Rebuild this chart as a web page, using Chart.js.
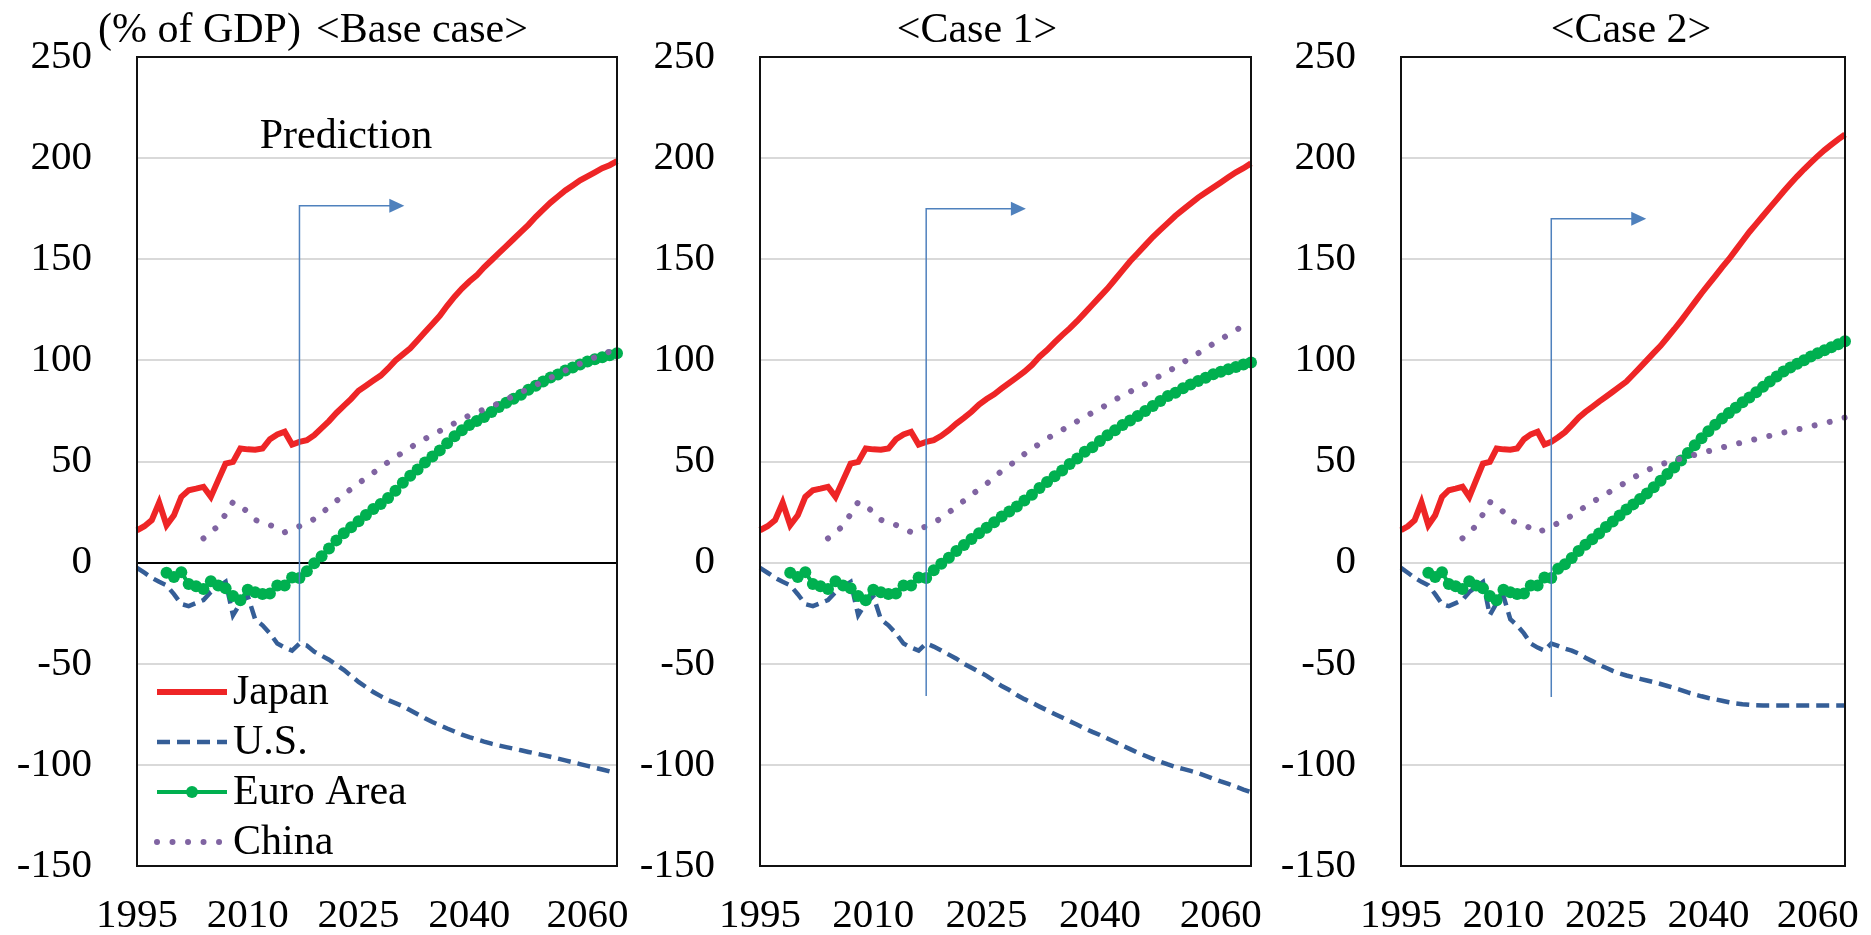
<!DOCTYPE html>
<html>
<head>
<meta charset="utf-8">
<script src="https://cdn.jsdelivr.net/npm/chart.js@4.4.1/dist/chart.umd.min.js"></script>
<style>
  html, body { margin: 0; padding: 0; background: #fff; }
  #wrap { position: relative; width: 1871px; height: 935px; overflow: hidden; }
  canvas { position: absolute; top: 0; }
</style>
</head>
<body>
<div id="wrap">
  <canvas id="base" width="640" height="935" style="left:0"></canvas>
  <canvas id="case1" width="640" height="935" style="left:640px"></canvas>
  <canvas id="case2" width="591" height="935" style="left:1280px"></canvas>
</div>
<script>
// years on the x axis
const years = Array.from({ length: 66 }, (_, i) => 1995 + i);
const xTickAt = [1995, 2010, 2025, 2040, 2056];
const xTickLabels = ['1995', '2010', '2025', '2040', '2060'];
const seriesNames = ['Japan', 'U.S.', 'Euro Area', 'China'];

// actual values 1995-2017 (% of GDP)
const jpHist = [16, 18, 21, 29.7, 18.5, 23.4, 32.5, 35.8, 36.6, 37.5, 32.5, 40.8, 49, 49.8, 56.4, 56, 55.8, 56.4, 61, 63.4, 64.7, 58.4, 59.7];
const usHist = [-2.6, -5, -7.5, -9.5, -11.2, -15.6, -20.5, -21.5, -20, -18.5, -14.5, -12, -9.5, -26, -20, -16.5, -28, -31, -35, -40, -42, -43.5, -40];
const euHist = [null, null, null, null, -5, -7.1, -4.7, -10.6, -11.7, -13.1, -9.2, -11.3, -12.7, -16.5, -18.6, -13.4, -14.6, -15.5, -15.3, -11.3, -11.3, -7.4, -7.6];
const cnHist = [null, null, null, null, null, null, null, null, null, 12, 15, 18.2, 24, 30, 28, 25, 21.2, 19.5, 18.6, 17, 15, 16.3, 18];

// predictions 2018-2060, base case
const jpBase = [60.5, 63, 66.5, 70, 74, 77.5, 81, 85, 87.5, 90,
  92.5, 96, 100, 103, 106, 110, 114, 118, 122, 127,
  131.5, 135.5, 139, 142, 146, 149.5, 153, 156.5, 160, 163.5,
  167, 171, 174.5, 178, 181, 184, 186.5, 189, 191, 193,
  195, 196.5, 198.5];
const usBase = [-41, -44, -46, -48, -50.5, -53, -56, -59, -61.5, -64,
  -66, -68, -69.5, -71, -73, -75, -77, -78.8, -80.4, -82,
  -83.5, -85, -86.3, -87.4, -88.5, -89.5, -90.4, -91.2, -92, -92.8,
  -93.6, -94.4, -95.2, -96, -96.9, -97.8, -98.7, -99.6, -100.5, -101.4,
  -102.3, -103.2, -104];
const euBase = [-4.3, -0.3, 3.2, 7, 11, 14.5, 17.5, 20.5, 23.5, 26.5,
  29, 32, 35.5, 39.5, 43, 46, 49.5, 52.5, 55.5, 59,
  62.5, 65.5, 68, 70, 72, 74.5, 77, 79, 81, 83,
  85.5, 87.5, 89.5, 91.5, 93, 95, 96.5, 98, 99.5, 100.5,
  101.5, 102.5, 103.5];
const cnBase = [19.5, 21.6, 24.5, 27.5, 30.5, 33.5, 36.5, 39.2, 41.8, 44.4,
  47, 49.7, 52.2, 54.5, 56.8, 59.2, 61.2, 63.2, 65.1, 67,
  68.9, 70.8, 72.8, 74.3, 75.8, 77.3, 78.8, 80.6, 82.4, 84.2,
  86, 87.8, 89.6, 91.4, 93.2, 95, 96.7, 98.4, 100, 101.5,
  103, 104.3, 105.5];

// case 1
const jpCase1 = [60.6, 62.7, 65.5, 68.8, 71.6, 74.6, 78.2, 80.9, 83.2, 86.1,
  88.9, 91.6, 94.4, 97.7, 101.8, 105.1, 108.9, 112.5, 115.8, 119.5,
  123.5, 127.5, 131.5, 135.5, 140, 144.5, 149, 153, 157, 161,
  164.5, 168, 171.5, 174.5, 177.5, 180.5, 183, 185.5, 188, 190.5,
  193, 195, 197.4];
const usCase1 = [-41.5, -43.4, -45.5, -47.5, -50, -52, -54, -56, -58.5, -61,
  -63, -65.5, -67.5, -69.3, -71.2, -73, -74.8, -76.6, -78.4, -80.2,
  -82, -83.7, -85.2, -87, -88.7, -90.5, -92.2, -94, -95.5, -97,
  -98.5, -99.8, -101, -102, -103, -104, -105.4, -106.8, -108.2, -109.4,
  -110.8, -112.2, -113.5];
const euCase1 = [-3.8, -0.5, 2.4, 5.7, 8.7, 11.7, 14.5, 17.3, 20, 22.8,
  25.3, 27.8, 30.7, 33.6, 36.9, 39.9, 42.7, 45.5, 48.8, 51.5,
  54.8, 57.1, 60.1, 63, 65.5, 68, 70.3, 72.5, 75, 77.4,
  79.9, 82.4, 84, 86.2, 88.1, 89.8, 91.4, 93.1, 94.4, 95.6,
  96.7, 98, 99];
const cnCase1 = [19.9, 21.9, 24.8, 27.7, 30.6, 33.5, 36.3, 39, 42.1, 45.4,
  48, 50.6, 53.7, 56.4, 58.7, 61.2, 63.7, 65.6, 67.5, 69.9,
  72.2, 74.1, 76.1, 78.3, 80.5, 82.6, 84.5, 86.4, 88.4, 90.4,
  92.4, 94.4, 96.7, 99, 101.2, 103.5, 105.9, 108.2, 110.4, 112.7,
  115, 117, 118.5];

// case 2
const jpCase2 = [62, 64.5, 68, 71.7, 74.5, 77, 79.6, 82, 84.5, 87,
  89.5, 93, 96.5, 100.1, 103.7, 107.2, 111.3, 115.4, 119.7, 124.2,
  128.7, 133.2, 137.4, 141.7, 146, 150, 154.5, 159, 163.5, 167.5,
  171.5, 175.5, 179.5, 183.5, 187.3, 191, 194.5, 197.8, 201, 204,
  206.7, 209.3, 211.7];
const usCase2 = [-41.2, -42.5, -43.5, -45, -47, -48.7, -50.5, -52, -53.5, -54.8,
  -55.8, -56.7, -57.5, -58.3, -59.1, -60, -61, -62, -63, -64.2,
  -65.2, -66.1, -66.9, -67.6, -68.3, -69, -69.6, -70, -70.3, -70.5,
  -70.6, -70.6, -70.6, -70.6, -70.6, -70.6, -70.6, -70.6, -70.6, -70.6,
  -70.6, -70.6, -70.6];
const euCase2 = [-3, -0.8, 2.3, 5.8, 8.8, 11.5, 14.4, 17.6, 20.3, 23.3,
  26.3, 28.8, 31.5, 34.2, 37.3, 40.5, 43.8, 47, 50.5, 54.2,
  58, 61.5, 65, 68.2, 71.2, 74, 76.6, 79.3, 81.7, 84.2,
  86.9, 89.5, 92, 94.5, 96.5, 98.3, 100.1, 101.9, 103.5, 105,
  106.5, 108, 109.5];
const cnCase2 = [19.5, 21.3, 23.3, 25.5, 27.8, 29.9, 31.9, 33.9, 35.9, 37.9,
  39.9, 41.9, 43.9, 45.6, 47.2, 48.5, 49.5, 50.5, 51.5, 52.4,
  53.3, 54.2, 55.1, 56, 56.9, 57.8, 58.6, 59.5, 60.3, 61.1,
  61.9, 62.7, 63.5, 64.3, 65, 65.8, 66.6, 67.4, 68.2, 69,
  69.8, 70.8, 71.8];

const SERIF = '"Liberation Serif", "Times New Roman", serif';
Chart.defaults.font.family = SERIF;
Chart.defaults.color = '#000';

// arrow, plot box, panel texts and legend
const decor = {
  id: 'decor',
  afterDatasetsDraw(chart, args, o) {
    const { ctx, chartArea: a, scales: { x, y } } = chart;
    ctx.save();

    // prediction arrow
    const ax = x.getPixelForValue(o.arrow.at);
    const top = y.getPixelForValue(o.arrow.top);
    const bot = y.getPixelForValue(o.arrow.bottom);
    const tip = x.getPixelForValue(o.arrow.end);
    ctx.strokeStyle = '#4F81BD';
    ctx.fillStyle = '#4F81BD';
    ctx.lineWidth = 1.5;
    ctx.beginPath();
    ctx.moveTo(ax, bot);
    ctx.lineTo(ax, top);
    ctx.lineTo(tip - 12, top);
    ctx.stroke();
    ctx.beginPath();
    ctx.moveTo(tip, top);
    ctx.lineTo(tip - 15, top - 7);
    ctx.lineTo(tip - 15, top + 7);
    ctx.closePath();
    ctx.fill();

    // plot frame
    ctx.strokeStyle = '#111';
    ctx.lineWidth = 2;
    ctx.strokeRect(a.left, a.top, a.right - a.left, a.bottom - a.top);

    // texts
    ctx.fillStyle = '#000';
    ctx.font = '42px ' + SERIF;
    ctx.textBaseline = 'alphabetic';
    (o.texts || []).forEach(t => {
      ctx.textAlign = t.align;
      ctx.fillText(t.text, t.x, t.y);
    });

    // legend
    if (o.legend) {
      const L = o.legend;
      chart.data.datasets.forEach((ds, i) => {
        const base = L.y + i * L.gap;
        const ly = base - 12;
        ctx.save();
        ctx.strokeStyle = ds.borderColor;
        ctx.lineWidth = ds.borderWidth;
        ctx.lineCap = ds.borderCapStyle || 'butt';
        ctx.setLineDash(ds.borderDash || []);
        ctx.beginPath();
        ctx.moveTo(L.x, ly);
        ctx.lineTo(L.x + L.len, ly);
        ctx.stroke();
        if (ds.pointRadius > 0) {
          ctx.setLineDash([]);
          ctx.fillStyle = ds.pointBackgroundColor;
          ctx.beginPath();
          ctx.arc(L.x + L.len / 2, ly, ds.pointRadius, 0, Math.PI * 2);
          ctx.fill();
        }
        ctx.restore();
        ctx.textAlign = 'left';
        ctx.fillText(ds.label, L.x + L.len + 6, base);
      });
    }
    ctx.restore();
  }
};

function makeChart(id, p) {
  const datasets = [
    { label: seriesNames[0], data: jpHist.concat(p.jp), borderColor: '#EE2526', borderWidth: 6,
      pointRadius: 0, order: 3 },
    { label: seriesNames[1], data: usHist.concat(p.us), borderColor: '#355E97', borderWidth: 4.5,
      borderDash: [13, 7], pointRadius: 0, order: 2 },
    { label: seriesNames[2], data: euHist.concat(p.eu), borderColor: '#00B050', borderWidth: 4,
      pointRadius: 6, pointBackgroundColor: '#00B050', pointBorderWidth: 0, order: 1 },
    { label: seriesNames[3], data: cnHist.concat(p.cn), borderColor: '#8064A2', borderWidth: 6,
      borderDash: [0.01, 15.5], borderCapStyle: 'round', pointRadius: 0, order: 0 }
  ];
  datasets.forEach(d => { d.tension = 0; d.fill = false; d.clip = 8; d.pointHoverRadius = 0; });

  return new Chart(document.getElementById(id), {
    type: 'line',
    data: { labels: years, datasets },
    options: {
      responsive: false,
      animation: false,
      devicePixelRatio: 1,
      events: [],
      layout: { padding: { top: 57, right: p.padRight, bottom: 0, left: 0 } },
      plugins: {
        legend: { display: false },
        tooltip: { enabled: false },
        decor: { arrow: p.arrow, texts: p.texts, legend: p.legend }
      },
      scales: {
        x: {
          type: 'linear',
          min: 1995,
          max: 2060,
          grid: { display: false, drawTicks: false },
          border: { display: false },
          afterBuildTicks: s => { s.ticks = xTickAt.map(v => ({ value: v })); },
          afterFit: s => { s.height = 69; s.paddingLeft = 0; s.paddingRight = 0; },
          ticks: {
            autoSkip: false,
            maxRotation: 0,
            padding: 26,
            font: { size: 41 },
            callback: (v, i) => xTickLabels[i]
          }
        },
        y: {
          min: -150,
          max: 250,
          afterFit: s => { s.width = p.yWidth; s.paddingTop = 0; s.paddingBottom = 0; },
          grid: {
            drawTicks: false,
            lineWidth: 2,
            color: c => (p.zeroBlack && c.tick && c.tick.value === 0) ? '#000' : '#D9D9D9'
          },
          border: { display: false },
          ticks: { stepSize: 50, padding: 45, font: { size: 41 } }
        }
      }
    },
    plugins: [decor]
  });
}

makeChart('base', {
  jp: jpBase, us: usBase, eu: euBase, cn: cnBase,
  yWidth: 137, padRight: 23, zeroBlack: true,
  arrow: { at: 2017, top: 176.5, bottom: -39, end: 2031.2 },
  texts: [
    { text: '(% of GDP)', x: 98, y: 42, align: 'left' },
    { text: '<Base case>', x: 422, y: 42, align: 'center' },
    { text: 'Prediction', x: 346, y: 148, align: 'center' }
  ],
  legend: { x: 157, y: 704, gap: 50, len: 70 }
});

makeChart('case1', {
  jp: jpCase1, us: usCase1, eu: euCase1, cn: cnCase1,
  yWidth: 120, padRight: 29, zeroBlack: false,
  arrow: { at: 2017, top: 175, bottom: -66, end: 2030.2 },
  texts: [{ text: '<Case 1>', x: 337, y: 42, align: 'center' }]
});

makeChart('case2', {
  jp: jpCase2, us: usCase2, eu: euCase2, cn: cnCase2,
  yWidth: 121, padRight: 26, zeroBlack: false,
  arrow: { at: 2017, top: 170, bottom: -66.5, end: 2030.9 },
  texts: [{ text: '<Case 2>', x: 351, y: 42, align: 'center' }]
});
</script>
</body>
</html>
